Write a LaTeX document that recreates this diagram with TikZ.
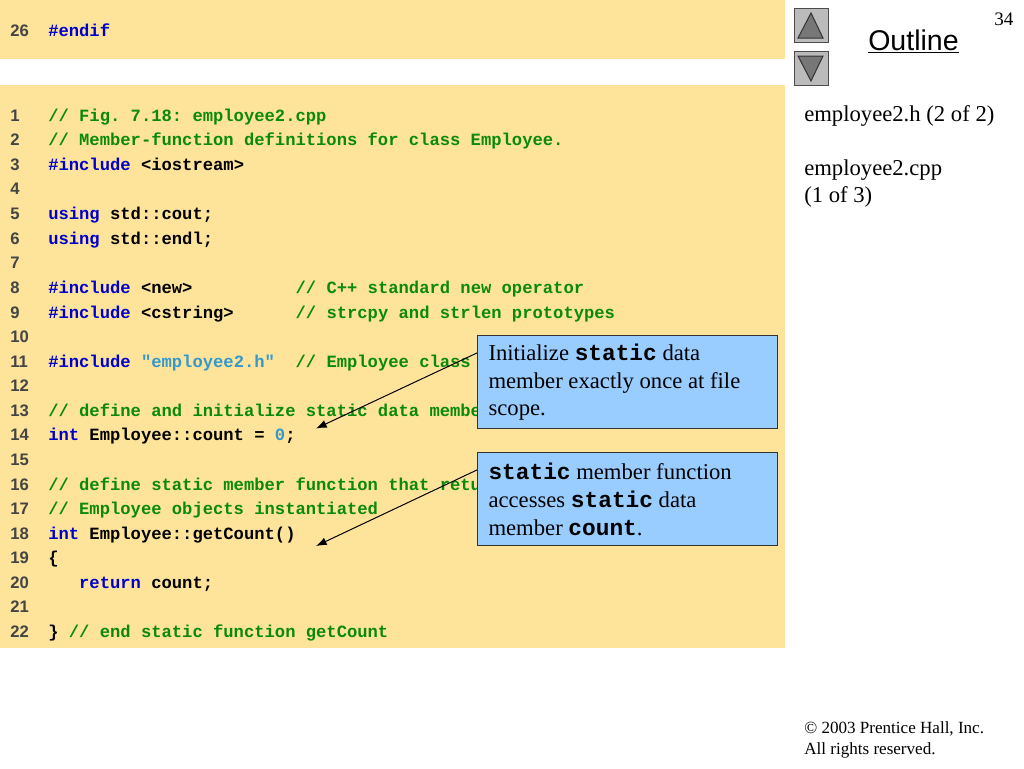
\documentclass[tikz,border=0pt]{standalone}
\usepackage{fontspec}
\usetikzlibrary{arrows.meta}
\setmainfont{Liberation Serif}
\newfontfamily\codefont{Liberation Mono}[BoldFont={Liberation Mono Bold}]
\newfontfamily\numfont{Liberation Sans}[BoldFont={Liberation Sans Bold}]
\frenchspacing
\definecolor{panelbg}{HTML}{FEE39B}
\definecolor{notebg}{HTML}{99CCFF}
\definecolor{kwblue}{HTML}{0000CC}
\definecolor{strblue}{HTML}{3399CC}
\definecolor{cmtgreen}{HTML}{0A8A0A}
\definecolor{numgrey}{HTML}{444444}
\definecolor{btnbg}{HTML}{BBBBBB}
\definecolor{btntri}{HTML}{777777}
\newcommand\kw[1]{\textcolor{kwblue}{#1}}
\newcommand\str[1]{\textcolor{strblue}{#1}}
\newcommand\cmt[1]{\textcolor{cmtgreen}{#1}}
\newcommand\mono[1]{{\codefont\bfseries\fontsize{17.1}{20.8}\selectfont #1}}
\tikzset{
  panel/.style={fill=panelbg,draw=none},
  codetext/.style={anchor=base west,inner sep=0pt,font=\codefont\bfseries\fontsize{12.88}{15}\selectfont},
  numtext/.style={anchor=base west,inner sep=0pt,text=numgrey,font=\numfont\bfseries\fontsize{12.5}{14}\selectfont},
  notebox/.style={draw=black!80,line width=0.8pt,fill=notebg,minimum width=225pt,minimum height=70pt,
    inner xsep=8.25pt,inner ysep=0pt,text width=208.5pt,align=flush left,anchor=north west,
    font=\fontsize{17}{20.8}\selectfont},
  sidetext/.style={anchor=base west,inner sep=0pt,font=\fontsize{17}{20.6}\selectfont},
  foot/.style={anchor=base west,inner sep=0pt,font=\fontsize{12.8}{14}\selectfont},
  pointer/.style={-{Latex[length=8pt,width=6pt]},line width=0.75pt,black},
  navbtn/.style={draw=black!70,line width=0.75pt,fill=btnbg,minimum width=25.5pt,minimum height=25.5pt,inner sep=0pt},
  navtri/.style={draw=black!80,line width=0.75pt,fill=btntri,line join=miter}
}
\newcommand\codeline[3]{%
  \node[numtext] (n#1) at (10,#2) {#1};
  \node[codetext] (c#1) at (48,#2) {#3};}
\begin{document}
\begin{tikzpicture}[x=0.75pt,y=-0.75pt]
\path[use as bounding box,fill=white] (0,0) rectangle (1024,768);
\fill[panel] (0,0) rectangle (785,59);
\fill[panel] (0,85) rectangle (785,648);
\codeline{26}{36}{\kw{\#endif}}
\codeline{1}{121}{\cmt{// Fig. 7.18: employee2.cpp}}
\codeline{2}{145.5}{\cmt{// Member-function definitions for class Employee.}}
\codeline{3}{170}{\kw{\#include} <iostream>}
\codeline{4}{194.5}{}
\codeline{5}{219}{\kw{using} std::cout;}
\codeline{6}{244}{\kw{using} std::endl;}
\codeline{7}{268.5}{}
\codeline{8}{293}{\kw{\#include} <new>~~~~~~~~~~\cmt{// C++ standard new operator}}
\codeline{9}{318}{\kw{\#include} <cstring>~~~~~~\cmt{// strcpy and strlen prototypes}}
\codeline{10}{342.5}{}
\codeline{11}{367}{\kw{\#include} \str{"employee2.h"}~~\cmt{// Employee class definition}}
\codeline{12}{391.5}{}
\codeline{13}{416}{\cmt{// define and initialize static data member}}
\codeline{14}{440.5}{\kw{int} Employee::count = \str{0};}
\codeline{15}{465}{}
\codeline{16}{490}{\cmt{// define static member function that returns number of}}
\codeline{17}{514.5}{\cmt{// Employee objects instantiated}}
\codeline{18}{539}{\kw{int} Employee::getCount()}
\codeline{19}{563.5}{\{}
\codeline{20}{588}{~~~\kw{return} count;}
\codeline{21}{612.5}{}
\codeline{22}{637}{\} \cmt{// end static function getCount}}
\node[notebox] (note1) at (477,335) {Initialize \mono{static} data\\member exactly once at file\\scope.};
\node[notebox] (note2) at (477,452) {\mono{static} member function\\accesses \mono{static} data\\member \mono{count}.};
\coordinate (tip1) at (316,428.5);
\coordinate (tip2) at (316,546);
\draw[pointer] (note1.169) -- (tip1);
\draw[pointer] (note2.169) -- (tip2);
\node[navbtn] (up) at (811,25.5) {};
\node[navbtn] (down) at (811,68) {};
\draw[navtri] (811,13) -- (798,38) -- (823,38) -- cycle;
\draw[navtri] (811,81) -- (798,56) -- (823,56) -- cycle;
\node[anchor=base west,inner sep=0pt,font=\numfont\fontsize{21.4}{24}\selectfont] (outline) at (868,50) {\underline{Outline}};
\node[anchor=base west,inner sep=0pt,font=\fontsize{14.3}{17}\selectfont] (page) at (994,25) {34};
\node[sidetext] (s1) at (804,121) {employee2.h (2 of 2)};
\node[sidetext] (s2) at (804,175) {employee2.cpp};
\node[sidetext] (s3) at (804,202) {(1 of 3)};
\node[foot] (f1) at (804,733) {\textcopyright{} 2003 Prentice Hall, Inc.};
\node[foot] (f2) at (804,754) {All rights reserved.};
\end{tikzpicture}
\end{document}
